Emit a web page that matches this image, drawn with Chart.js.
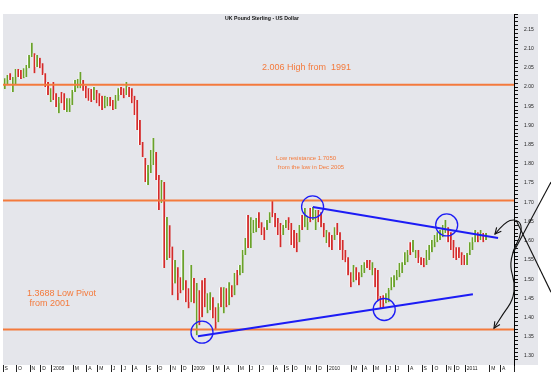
<!DOCTYPE html>
<html>
<head>
<meta charset="utf-8">
<title>UK Pound Sterling - US Dollar</title>
<script src="https://cdn.jsdelivr.net/npm/chart.js@4.4.1/dist/chart.umd.min.js"></script>
<style>
  html, body { margin: 0; padding: 0; background: #fff; }
</style>
</head>
<body>
<canvas id="fx" width="551" height="382"></canvas>
<script>
// ============================== DATA ==============================
const weekCount = 189;

// month ticks on the time axis (week index -> label)
const monthIdx = [0, 5, 10, 14, 18, 26, 31, 35, 40, 44, 48, 53, 57, 62, 66, 70, 78, 82, 87, 91,
                  95, 100, 104, 107, 112, 116, 120, 129, 133, 137, 142, 145, 150, 155, 159, 164, 167, 171, 180, 184];
const monthText = ['S', 'O', 'N', 'D', '2008', 'M', 'A', 'M', 'J', 'J', 'A', 'S', 'O', 'N', 'D', '2009', 'M', 'A', 'M', 'J',
                   'J', 'A', 'S', 'O', 'N', 'D', '2010', 'M', 'A', 'M', 'J', 'J', 'A', 'S', 'O', 'N', 'D', '2011', 'M', 'A'];

// weekly GBP/USD bars
const lows = [
  1.995, 2.005, 2.018, 1.987, 2.005, 2.026, 2.021, 2.023, 2.026, 2.049,
  2.078, 2.036, 2.052, 2.049, 2.031, 2.000, 1.979, 1.961, 1.966, 1.948,
  1.932, 1.958, 1.940, 1.935, 1.935, 1.953, 1.987, 1.997, 1.997, 1.990,
  1.971, 1.964, 1.961, 1.966, 1.958, 1.950, 1.940, 1.945, 1.950, 1.950,
  1.940, 1.943, 1.964, 1.979, 1.971, 1.979, 1.974, 1.958, 1.927, 1.888,
  1.849, 1.818, 1.753, 1.745, 1.776, 1.797, 1.758, 1.680, 1.698, 1.529,
  1.550, 1.555, 1.458, 1.489, 1.445, 1.463, 1.471, 1.440, 1.424, 1.440,
  1.437, 1.354, 1.380, 1.401, 1.427, 1.411, 1.419, 1.398, 1.367, 1.388,
  1.427, 1.411, 1.427, 1.432, 1.453, 1.458, 1.484, 1.510, 1.516, 1.563,
  1.581, 1.581, 1.620, 1.622, 1.633, 1.615, 1.602, 1.628, 1.646, 1.661,
  1.635, 1.615, 1.583, 1.615, 1.633, 1.628, 1.589, 1.581, 1.570, 1.596,
  1.628, 1.635, 1.628, 1.648, 1.654, 1.628, 1.648, 1.635, 1.609, 1.594,
  1.583, 1.576, 1.602, 1.615, 1.576, 1.550, 1.544, 1.510, 1.479, 1.492,
  1.497, 1.484, 1.505, 1.516, 1.529, 1.524, 1.510, 1.479, 1.445, 1.424,
  1.427, 1.437, 1.440, 1.471, 1.479, 1.497, 1.505, 1.516, 1.537, 1.544,
  1.563, 1.570, 1.555, 1.542, 1.537, 1.531, 1.537, 1.550, 1.570, 1.583,
  1.596, 1.602, 1.609, 1.620, 1.596, 1.576, 1.555, 1.550, 1.555, 1.537,
  1.537, 1.537, 1.563, 1.576, 1.596, 1.596, 1.602, 1.596, 1.602
];
const highs = [
  2.023, 2.031, 2.036, 2.026, 2.047, 2.047, 2.044, 2.049, 2.057, 2.083,
  2.115, 2.088, 2.083, 2.076, 2.062, 2.036, 2.013, 1.997, 2.013, 1.984,
  1.974, 1.987, 1.984, 1.971, 1.971, 1.992, 2.018, 2.021, 2.039, 2.018,
  2.003, 1.997, 1.995, 2.000, 1.992, 1.984, 1.977, 1.977, 1.974, 1.974,
  1.966, 1.979, 1.997, 2.000, 1.997, 2.013, 2.000, 1.997, 1.977, 1.966,
  1.914, 1.857, 1.815, 1.797, 1.836, 1.867, 1.831, 1.771, 1.758, 1.753,
  1.662, 1.640, 1.585, 1.550, 1.531, 1.505, 1.576, 1.497, 1.476, 1.537,
  1.503, 1.490, 1.471, 1.497, 1.503, 1.463, 1.466, 1.453, 1.427, 1.437,
  1.479, 1.479, 1.476, 1.492, 1.484, 1.516, 1.524, 1.537, 1.576, 1.607,
  1.667, 1.661, 1.654, 1.659, 1.674, 1.648, 1.635, 1.654, 1.674, 1.706,
  1.672, 1.659, 1.646, 1.641, 1.654, 1.661, 1.646, 1.628, 1.620, 1.641,
  1.667, 1.685, 1.661, 1.685, 1.688, 1.680, 1.680, 1.674, 1.646, 1.628,
  1.622, 1.615, 1.635, 1.646, 1.622, 1.602, 1.576, 1.557, 1.518, 1.537,
  1.531, 1.518, 1.537, 1.544, 1.550, 1.550, 1.544, 1.529, 1.524, 1.456,
  1.458, 1.463, 1.477, 1.505, 1.510, 1.524, 1.542, 1.544, 1.570, 1.576,
  1.596, 1.602, 1.576, 1.576, 1.557, 1.555, 1.576, 1.589, 1.602, 1.615,
  1.622, 1.628, 1.641, 1.654, 1.635, 1.622, 1.602, 1.583, 1.583, 1.570,
  1.563, 1.568, 1.596, 1.609, 1.628, 1.622, 1.628, 1.620, 1.620
];
// u = up week (green), d = down week (red)
const dirs = 'uuduudduuu' + 'ududdddudd' + 'udduuuuuud' + 'ddduddduud' + 'duuddudddd' +
             'ddduuuddud' + 'uddudduddu' + 'duddduuddu' + 'dudududuuu' + 'duuuddduud' +
             'ddduuddddu' + 'duuduudddu' + 'dduddddddu' + 'dduudduddd' + 'duuuuuuuuu' +
             'duuddduuuu' + 'uuuudddddd' + 'duuuududu';

// horizontal levels (2.006 high, 1.7050 resistance, 1.3688 pivot)
const levels = [2.006, 1.705, 1.3688];

// trend lines: [week, price] start / end
const upperTrend = [[114.1, 1.6875], [182.6, 1.607]];
const lowerTrend = [[71.6, 1.3516], [173.3, 1.461]];

// circled turning points [week, price]
const pivots = [[73.1, 1.362], [114.0, 1.688], [163.6, 1.641], [140.5, 1.421]];

// ============================== STYLE ==============================
const GREEN = '#6aa22a';
const RED = '#d42a2a';
const ORANGE = '#f47a3c';
const BLUE = '#1c1cf5';
const PANEL = '#e5e6eb';
const FONT = "'Liberation Sans', Arial, sans-serif";

const dirList = dirs.split('');

function isCent(v) {
    const h = v * 100;
    return Math.abs(h - Math.round(h)) < 1e-6;
}
function isMajor(v) {
    const h = Math.round(v * 100);
    return isCent(v) && h % 5 === 0;
}

// ============================== ANNOTATIONS ==============================
const notes = [
    { text: '2.006 High from  1991', at: [95.3, 2.052], font: '9px ' + FONT },
    { text: 'Low resistance 1.7050', at: [100.5, 1.815], font: '6px ' + FONT },
    { text: ' from the low in Dec 2005', at: [100.5, 1.792], font: '6px ' + FONT },
    { text: '1.3688 Low Pivot', at: [8.4, 1.4636], font: '9px ' + FONT },
    { text: ' from 2001', at: [8.4, 1.4375], font: '9px ' + FONT }
];
const titleNote = { text: 'UK Pound Sterling - US Dollar', at: [95.3, 2.177] };

// hand drawn arrows at the right edge
const curvePath = [[181.45, 1.6172], [185.15, 1.6485], [188.85, 1.6563], [191.44, 1.6432], [190.7, 1.6068],
                   [188.1, 1.5755], [187.0, 1.5313], [188.85, 1.4896], [188.1, 1.4453], [184.4, 1.4089], [181.1, 1.3724]];
const crossLines = [
    [[202.2, 1.7526], [188.1, 1.5677]],
    [[189.6, 1.6485], [202.2, 1.4662]]
];

const panelPlugin = {
    id: 'panel',
    beforeDraw(chart) {
        const c = chart.ctx, a = chart.chartArea;
        c.save();
        c.fillStyle = '#fff';
        c.fillRect(0, 0, chart.width, chart.height);
        c.fillStyle = PANEL;
        c.fillRect(a.left, a.top, a.right - a.left + 24, a.bottom - a.top);
        c.restore();
    }
};

function arrowHead(c, tip, from, size) {
    const ang = Math.atan2(tip[1] - from[1], tip[0] - from[0]);
    c.beginPath();
    c.moveTo(tip[0] - size * Math.cos(ang - 0.45), tip[1] - size * Math.sin(ang - 0.45));
    c.lineTo(tip[0], tip[1]);
    c.lineTo(tip[0] - size * Math.cos(ang + 0.45), tip[1] - size * Math.sin(ang + 0.45));
    c.stroke();
}

const notesPlugin = {
    id: 'notes',
    afterDraw(chart) {
        const c = chart.ctx, xs = chart.scales.x, ys = chart.scales.y;
        const P = p => [xs.getPixelForValue(p[0]), ys.getPixelForValue(p[1])];
        c.save();

        // title
        c.fillStyle = '#111';
        c.font = 'bold 5.2px ' + FONT;
        c.textAlign = 'center';
        c.textBaseline = 'middle';
        const t = P(titleNote.at);
        c.fillText(titleNote.text, t[0], t[1]);

        // orange notes
        c.textAlign = 'left';
        c.fillStyle = ORANGE;
        notes.forEach(n => {
            const p = P(n.at);
            c.font = n.font;
            c.fillText(n.text, p[0], p[1]);
        });

        // arrows
        c.strokeStyle = '#111';
        c.lineWidth = 1.1;
        const pts = curvePath.map(P);
        c.beginPath();
        c.moveTo(pts[0][0], pts[0][1]);
        for (let i = 1; i < pts.length - 1; i++) {
            const mx = (pts[i][0] + pts[i + 1][0]) / 2, my = (pts[i][1] + pts[i + 1][1]) / 2;
            c.quadraticCurveTo(pts[i][0], pts[i][1], mx, my);
        }
        c.lineTo(pts[pts.length - 1][0], pts[pts.length - 1][1]);
        c.stroke();
        arrowHead(c, pts[0], pts[1], 7);
        arrowHead(c, pts[pts.length - 1], pts[pts.length - 2], 7);

        crossLines.forEach(l => {
            const a = P(l[0]), b = P(l[1]);
            c.beginPath();
            c.moveTo(a[0], a[1]);
            c.lineTo(b[0], b[1]);
            c.stroke();
        });
        c.restore();
    }
};

// ============================== CHART ==============================
const toXY = arr => arr.map(p => ({ x: p[0], y: p[1] }));

const datasets = [
    { type: 'line', data: toXY(upperTrend), borderColor: BLUE, borderWidth: 2, pointRadius: 0 },
    { type: 'line', data: toXY(lowerTrend), borderColor: BLUE, borderWidth: 2, pointRadius: 0 },
    { type: 'line', data: toXY(pivots), showLine: false, pointRadius: 11, pointStyle: 'circle',
      pointBackgroundColor: 'rgba(0,0,0,0)', pointBorderColor: BLUE, pointBorderWidth: 1.3 }
];
levels.forEach(lv => {
    datasets.push({ type: 'line', data: [{ x: -0.5, y: lv }, { x: weekCount - 0.5, y: lv }],
                    borderColor: ORANGE, borderWidth: 2, pointRadius: 0 });
});
datasets.push({
    type: 'bar',
    data: lows.map((l, i) => ({ x: i, y: [l, highs[i]] })),
    backgroundColor: dirList.map(d => d === 'u' ? GREEN : RED),
    borderColor: 'rgba(255,255,255,0.95)',
    borderWidth: { left: 1.1, right: 0, top: 0, bottom: 0 },
    borderSkipped: false,
    barThickness: 2.6
});

const monthTicks = monthIdx.map(w => ({ value: w - 0.5 })).concat([{ value: weekCount - 0.5 }]);

new Chart(document.getElementById('fx').getContext('2d'), {
    type: 'bar',
    data: { datasets: datasets },
    options: {
        responsive: false,
        animation: false,
        devicePixelRatio: 1,
        layout: { padding: { left: 3, top: 14, right: 0, bottom: 0 }, autoPadding: false },
        plugins: { legend: { display: false }, tooltip: { enabled: false } },
        scales: {
            x: {
                type: 'linear',
                min: -0.5,
                max: weekCount - 0.5,
                offset: false,
                border: { display: false },
                grid: { offset: false, drawOnChartArea: false, tickLength: 7, lineWidth: 1, color: '#222' },
                afterBuildTicks: s => { s.ticks = monthTicks.map(t => ({ value: t.value })); },
                ticks: {
                    autoSkip: false, maxRotation: 0, minRotation: 0,
                    align: 'start', padding: -6, labelOffset: 1.5,
                    font: { size: 5, family: FONT }, color: '#222',
                    callback: (v, i) => monthText[i] || ''
                },
                afterFit: s => { s.height = 17; }
            },
            y: {
                position: 'right',
                min: 1.2766,
                max: 2.19,
                border: { display: true, color: '#000', width: 1 },
                grid: {
                    drawOnChartArea: false,
                    tickLength: 4,
                    color: c => (c.tick && isCent(c.tick.value)) ? '#111' : 'rgba(0,0,0,0)'
                },
                ticks: {
                    stepSize: 0.01, autoSkip: false, padding: 6,
                    font: { size: 5, family: FONT }, color: '#222',
                    callback: v => isMajor(v) ? v.toFixed(2) : ''
                },
                afterFit: s => { s.width = 37; }
            }
        }
    },
    plugins: [panelPlugin, notesPlugin]
});
</script>
</body>
</html>
